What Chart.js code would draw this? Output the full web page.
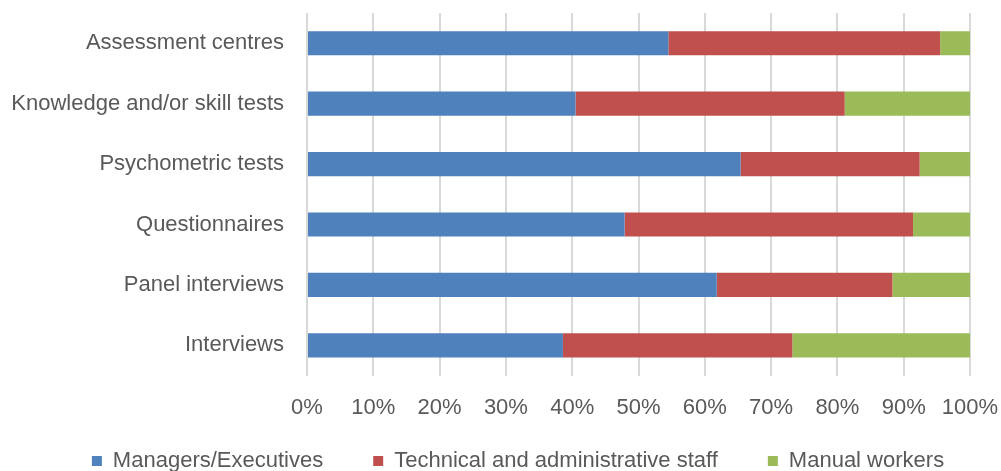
<!DOCTYPE html>
<html>
<head>
<meta charset="utf-8">
<script src="https://cdn.jsdelivr.net/npm/chart.js@4"></script>
<style>
  html, body { margin: 0; padding: 0; background: #fff; }
  #wrap { width: 1001px; height: 471px; }
</style>
</head>
<body>
<div id="wrap"><canvas id="chart" width="1001" height="471"></canvas></div>
<script>
// categories, top to bottom
const methods = [
    "Assessment centres",
    "Knowledge and/or skill tests",
    "Psychometric tests",
    "Questionnaires",
    "Panel interviews",
    "Interviews",
];

// share of each staff group (%)
const managers = [54.5, 40.5, 65.4, 47.9, 61.8, 38.6];
const technical = [41.0, 40.6, 27.0, 43.5, 26.5, 34.6];
const manual = [4.5, 18.9, 7.6, 8.6, 11.7, 26.8];

const xTicks = [0, 10, 20, 30, 40, 50, 60, 70, 80, 90, 100];

const textColor = "#595959";
const fontFamily = "'Liberation Sans', Arial, sans-serif";

const makeSet = (label, data, color) => ({
    label,
    data,
    backgroundColor: color,
    borderWidth: 0,
    barPercentage: 0.8,
    categoryPercentage: 0.5,
});

// legend: wide gaps between items but a short box, drawn a bit higher
const legendFit = {
    id: "legendFit",
    beforeInit(chart) {
        const origFit = chart.legend.fit;
        chart.legend.fit = function () {
            origFit.call(this);
            this.height = 31;
        };
    },
    afterLayout(chart) {
        const lg = chart.legend;
        lg.top = chart.scales.x.bottom - 40;
        lg.bottom = chart.height;
        lg.left += 31;
        lg.right += 31;
    },
};

new Chart(document.getElementById("chart").getContext("2d"), {
    type: "bar",
    data: {
        labels: methods,
        datasets: [
            makeSet("Managers/Executives", managers, "#4F81BD"),
            makeSet("Technical and administrative staff", technical, "#C0504D"),
            makeSet("Manual workers", manual, "#9BBB59"),
        ],
    },
    options: {
        indexAxis: "y",
        responsive: false,
        animation: false,
        layout: { padding: { top: 13, right: 31, left: 4, bottom: 0 } },
        scales: {
            x: {
                stacked: true,
                min: 0,
                max: 100,
                afterBuildTicks: (axis) => {
                    axis.ticks = xTicks.map((v) => ({ value: v }));
                },
                afterFit: (axis) => {
                    axis.paddingLeft = 0;
                    axis.paddingRight = 0;
                },
                ticks: {
                    callback: (v) => v + "%",
                    color: textColor,
                    font: { family: fontFamily, size: 22 },
                    padding: 19,
                    maxRotation: 0,
                },
                grid: { color: "#d9d9d9", lineWidth: 2, drawTicks: false },
                border: { display: false },
            },
            y: {
                stacked: true,
                afterFit: (axis) => {
                    axis.width = 303;
                    axis.paddingTop = 0;
                    axis.paddingBottom = 0;
                },
                ticks: {
                    color: textColor,
                    font: { family: fontFamily, size: 22 },
                    padding: 23,
                },
                grid: { display: false, drawTicks: false },
                border: { display: false },
            },
        },
        plugins: {
            legend: {
                position: "bottom",
                labels: {
                    boxWidth: 10,
                    boxHeight: 10,
                    color: textColor,
                    font: { family: fontFamily, size: 22 },
                    padding: 50,
                },
            },
            tooltip: { enabled: false },
        },
    },
    plugins: [legendFit],
});
</script>
</body>
</html>
